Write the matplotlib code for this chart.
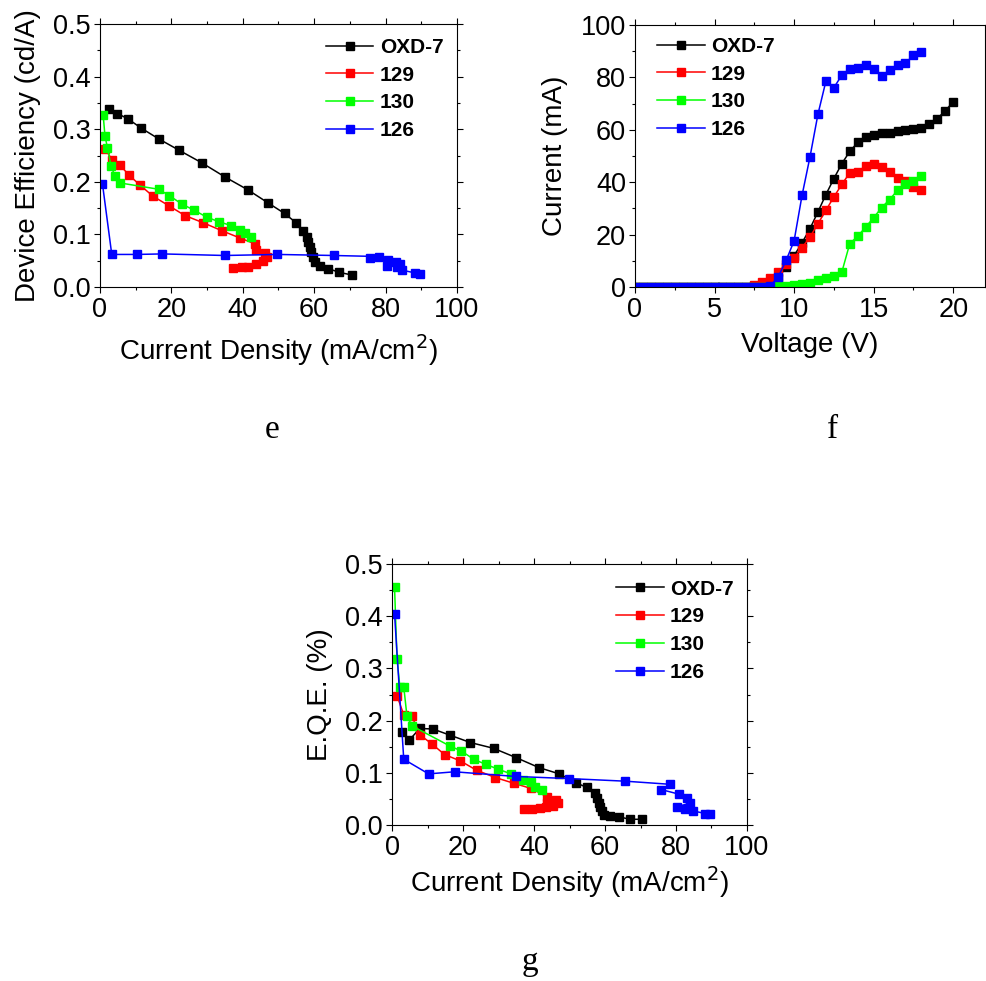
import numpy as np
import matplotlib
matplotlib.use('Agg')
from matplotlib import pyplot as plt
from matplotlib.ticker import MultipleLocator

plt.rcParams['font.family'] = ['Liberation Sans', 'DejaVu Sans']

# ---- panel e: efficiency vs current density
e_oxd_x = [2.6, 4.9, 7.8, 11.6, 16.4, 22.2, 28.6, 35.1, 41.4, 47.1, 51.7, 55.0, 57.0, 58.0,
           58.4, 58.8, 59.2, 59.6, 60.2, 61.7, 64.0, 67.0, 70.5]
e_oxd_y = [0.338, 0.330, 0.320, 0.302, 0.282, 0.260, 0.236, 0.209, 0.185, 0.160, 0.140, 0.122,
           0.107, 0.095, 0.086, 0.077, 0.067, 0.057, 0.047, 0.040, 0.035, 0.028, 0.023]
e_129_x = [1.4, 3.5, 5.6, 8.1, 11.2, 14.8, 19.2, 23.8, 29.0, 34.2, 39.3, 43.5, 43.6, 46.3,
           46.7, 45.8, 43.7, 41.6, 39.7, 37.4]
e_129_y = [0.263, 0.241, 0.232, 0.213, 0.194, 0.173, 0.155, 0.136, 0.122, 0.107, 0.093, 0.082,
           0.071, 0.065, 0.057, 0.049, 0.043, 0.039, 0.038, 0.036]
e_130_x = [0.9, 1.4, 2.1, 3.1, 4.2, 5.6, 16.4, 19.4, 22.9, 26.4, 29.9, 33.4, 36.7, 39.3, 40.7, 42.3]
e_130_y = [0.327, 0.287, 0.265, 0.230, 0.211, 0.198, 0.186, 0.174, 0.158, 0.146, 0.133, 0.124,
           0.117, 0.108, 0.102, 0.096]
e_126_x = [0.7, 3.3, 10.3, 17.5, 35.0, 49.7, 65.5, 78.2, 75.6, 80.6, 82.8, 84.0, 80.3, 83.3,
           84.7, 88.2, 89.6]
e_126_y = [0.196, 0.062, 0.062, 0.063, 0.060, 0.062, 0.060, 0.058, 0.056, 0.051, 0.048, 0.044,
           0.040, 0.039, 0.032, 0.027, 0.025]

# ---- panel f: current vs voltage
volt = [0, 0.5, 1, 1.5, 2, 2.5, 3, 3.5, 4, 4.5, 5, 5.5, 6, 6.5, 7, 7.5, 8, 8.5, 9, 9.5,
        10, 10.5, 11, 11.5, 12, 12.5, 13, 13.5, 14, 14.5, 15, 15.5, 16, 16.5, 17, 17.5,
        18, 18.5, 19, 19.5, 20]
f_oxd = [0, 0, 0, 0, 0, 0, 0, 0, 0, 0, 0, 0, 0, 0, 0, 0.3, 0.7, 1.5, 3.5, 7.5,
         12.0, 16.9, 22.3, 28.7, 35.3, 41.4, 47.1, 51.8, 55.2, 57.3, 58.2, 58.9, 59.0, 59.4,
         59.9, 60.4, 60.9, 62.2, 64.3, 67.3, 70.7]
f_129 = [0, 0, 0, 0, 0, 0, 0, 0, 0, 0, 0, 0, 0, 0, 0, 0.9, 1.9, 3.6, 5.7, 8.7,
         11.2, 15.0, 19.1, 24.2, 29.3, 34.4, 39.2, 43.6, 43.8, 46.4, 46.9, 45.9, 43.8, 41.7,
         40.5, 38.2, 37.2]
f_130 = [0, 0, 0, 0, 0, 0, 0, 0, 0, 0, 0, 0, 0, 0, 0, 0, 0, 0, 0.3, 0.5,
         0.6, 1.0, 1.5, 2.5, 3.4, 4.2, 5.7, 16.6, 19.4, 22.9, 26.5, 30.3, 33.4, 36.9,
         39.5, 40.5, 42.4]
f_126 = [0, 0, 0, 0, 0, 0, 0, 0, 0, 0, 0, 0, 0, 0, 0, 0, 0, 0.5, 3.8, 10.2,
         17.6, 35.0, 49.7, 66.0, 78.6, 76.1, 80.9, 83.4, 83.7, 84.6, 83.2, 80.6, 82.8, 84.7,
         85.4, 88.5, 89.8]

# ---- panel g: EQE vs current density
g_oxd_x = [2.8, 4.9, 7.8, 11.5, 16.4, 22.1, 28.6, 35.0, 41.4, 47.1, 51.8, 54.9, 57.1, 57.8,
           58.2, 58.7, 59.2, 59.8, 61.5, 63.9, 66.9, 70.4]
g_oxd_y = [0.178, 0.163, 0.185, 0.184, 0.172, 0.158, 0.147, 0.129, 0.110, 0.098, 0.081, 0.072,
           0.062, 0.051, 0.043, 0.034, 0.026, 0.019, 0.017, 0.016, 0.011, 0.011]
g_129_x = [1.4, 3.3, 5.6, 8.0, 11.3, 14.8, 19.2, 23.8, 29.1, 34.3, 39.2, 43.7, 43.7, 46.3,
           46.7, 45.4, 43.5, 41.6, 39.4, 37.1]
g_129_y = [0.248, 0.211, 0.208, 0.172, 0.155, 0.135, 0.123, 0.105, 0.091, 0.080, 0.070, 0.054,
           0.043, 0.047, 0.042, 0.036, 0.034, 0.033, 0.030, 0.030]
g_130_x = [0.7, 1.4, 2.2, 3.3, 4.2, 5.6, 16.4, 19.5, 23.0, 26.5, 29.9, 33.5, 36.8, 39.2, 40.4, 42.3]
g_130_y = [0.457, 0.319, 0.265, 0.265, 0.209, 0.190, 0.151, 0.142, 0.126, 0.116, 0.107, 0.098,
           0.087, 0.082, 0.073, 0.068]
g_126_x = [0.7, 3.3, 10.3, 17.6, 35.0, 49.8, 65.7, 78.4, 75.8, 80.9, 83.1, 84.0, 80.3, 82.4,
           84.8, 88.3, 89.7]
g_126_y = [0.405, 0.126, 0.098, 0.102, 0.093, 0.089, 0.084, 0.078, 0.068, 0.059, 0.051, 0.042,
           0.035, 0.030, 0.027, 0.022, 0.021]

names = ['OXD-7', '129', '130', '126']
colors = ['black', 'red', '#00ff00', 'blue']


def style_axes(ax):
    for s in ax.spines.values():
        s.set_linewidth(0.8)
    ax.tick_params(which='both', labelsize=19.5, width=0.8, top=True, right=True)
    ax.tick_params(which='major', length=4.5)
    ax.tick_params(which='minor', length=2.5)
    ax.tick_params(axis='x', which='both', direction='out', pad=3)
    ax.tick_params(axis='y', which='both', direction='out', pad=2)


def draw(ax, series, anchor):
    for (x, y), name, c in zip(series, names, colors):
        ax.plot(x, y, '-s', color=c, lw=1.1, ms=5.8, label=name)
    leg = ax.legend(loc='upper left', bbox_to_anchor=anchor, frameon=False,
                    prop={'size': 15, 'weight': 'bold'}, handlelength=2.3,
                    handletextpad=0.3, labelspacing=0.42, borderaxespad=0, borderpad=0)
    return leg


fig = plt.figure(figsize=(9.86, 9.81), dpi=100)

ax_e = fig.add_axes([0.1014, 0.7074, 0.362, 0.268])
draw(ax_e, [(e_oxd_x, e_oxd_y), (e_129_x, e_129_y), (e_130_x, e_130_y), (e_126_x, e_126_y)],
     (0.632, 0.948))
ax_e.set_xlim(0, 100)
ax_e.set_ylim(0, 0.5)
ax_e.xaxis.set_major_locator(MultipleLocator(20))
ax_e.xaxis.set_minor_locator(MultipleLocator(10))
ax_e.yaxis.set_major_locator(MultipleLocator(0.1))
ax_e.yaxis.set_minor_locator(MultipleLocator(0.05))
ax_e.set_xlabel('Current Density (mA/cm$^2$)', fontsize=20, labelpad=6)
ax_e.set_ylabel('Device Efficiency (cd/A)', fontsize=20, labelpad=9)
style_axes(ax_e)

ax_f = fig.add_axes([0.644, 0.7074, 0.355, 0.267])
draw(ax_f, [(volt, f_oxd), (volt[:len(f_129)], f_129), (volt[:len(f_130)], f_130),
            (volt[:len(f_126)], f_126)], (0.062, 0.955))
ax_f.set_xlim(0, 22)
ax_f.set_ylim(0, 100)
ax_f.xaxis.set_major_locator(MultipleLocator(5))
ax_f.xaxis.set_minor_locator(MultipleLocator(2.5))
ax_f.yaxis.set_major_locator(MultipleLocator(20))
ax_f.yaxis.set_minor_locator(MultipleLocator(10))
ax_f.set_xlabel('Voltage (V)', fontsize=20, labelpad=6)
ax_f.set_ylabel('Current (mA)', fontsize=20, labelpad=9)
style_axes(ax_f)

ax_g = fig.add_axes([0.3976, 0.159, 0.360, 0.266])
draw(ax_g, [(g_oxd_x, g_oxd_y), (g_129_x, g_129_y), (g_130_x, g_130_y), (g_126_x, g_126_y)],
     (0.63, 0.94))
ax_g.set_xlim(0, 100)
ax_g.set_ylim(0, 0.5)
ax_g.xaxis.set_major_locator(MultipleLocator(20))
ax_g.xaxis.set_minor_locator(MultipleLocator(10))
ax_g.yaxis.set_major_locator(MultipleLocator(0.1))
ax_g.yaxis.set_minor_locator(MultipleLocator(0.05))
ax_g.set_xlabel('Current Density (mA/cm$^2$)', fontsize=20, labelpad=2)
ax_g.set_ylabel('E.Q.E. (%)', fontsize=20, labelpad=9)
style_axes(ax_g)

serif = ['Liberation Serif', 'DejaVu Serif']
fig.text(272 / 986, 1 - 430 / 981, 'e', family=serif, fontsize=24, ha='center', va='center')
fig.text(833 / 986, 1 - 430 / 981, 'f', family=serif, fontsize=24, ha='center', va='center')
fig.text(530 / 986, 1 - 962 / 981, 'g', family=serif, fontsize=24, ha='center', va='center')

fig.savefig('out.png', dpi=100)
plt.close(fig)
